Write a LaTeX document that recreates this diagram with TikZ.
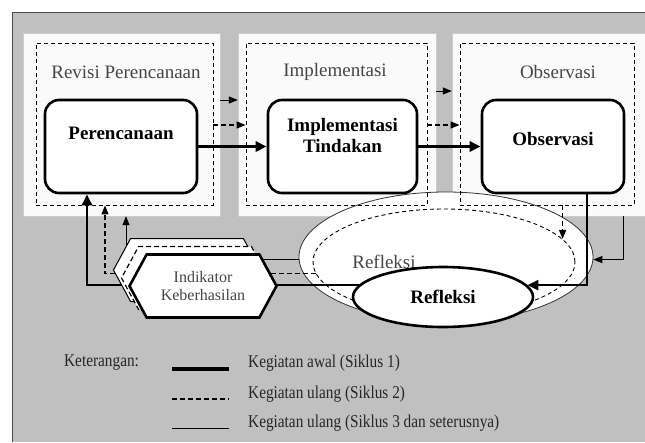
\documentclass[tikz,border=0pt]{standalone}
\usepackage{fontspec}
\setmainfont{Liberation Serif}
\newfontfamily\narrowserif[FakeStretch=0.85]{Liberation Serif}
\usepackage{tikz}
\usetikzlibrary{arrows.meta,shapes.geometric,shapes.symbols}

\definecolor{bggray}{RGB}{192,192,192}
\definecolor{panelwhite}{RGB}{250,250,250}
\definecolor{txtgray}{RGB}{70,70,70}

\tikzset{
  panel/.style={rectangle,draw=black!20,fill=panelwhite,minimum width=#1,minimum height=183pt,inner sep=0pt},
  dashbox/.style={rectangle,draw,line width=0.9pt,dash pattern=on 4pt off 3pt,minimum width=#1,minimum height=162pt,inner sep=0pt},
  stepbox/.style={rectangle,draw,rounded corners=14pt,line width=2.6pt,fill=white,minimum width=#1,minimum height=93pt,inner sep=0pt},
  heading/.style={text=txtgray,font=\fontsize{19}{22}\selectfont,inner sep=0pt},
  boxlbl/.style={align=center,font=\bfseries\fontsize{19}{21}\selectfont,inner sep=0pt},
  hexbox/.style={signal,signal to=west and east,signal pointer angle=123,minimum width=147pt,minimum height=63pt,inner sep=0pt,draw,fill=white},
  legtxt/.style={anchor=west,text=black!85,font=\narrowserif\fontsize{18}{21}\selectfont,inner sep=0pt},
  awal/.style={line width=2.6pt,-{Triangle[length=11pt,width=10pt]}},
  ulang/.style={line width=1.2pt,dash pattern=on 5pt off 3pt,-{Triangle[length=9pt,width=7pt]}},
  lanjut/.style={line width=1pt,-{Triangle[length=9pt,width=7pt]}}
}

\begin{document}
\begin{tikzpicture}[x=1pt,y=-1pt]
\useasboundingbox (0,0) rectangle (645,442);
% background frame
\fill[bggray] (12,12) rectangle (645,442);
\draw[line width=1pt,black!70] (12,442) -- (12,12) -- (645,12);

% panels
\node[panel=197pt] (pplan) at (121.5,124.5) {};
\node[panel=198pt] (pimp) at (337,124.5) {};
\node[panel=193pt] (pobs) at (548.5,124.5) {};

% reflection ellipses
\node[ellipse,draw=black!80,line width=0.8pt,fill=white,minimum width=294pt,minimum height=130pt] (bigref) at (446,257) {};
\node[ellipse,draw,line width=0.9pt,dash pattern=on 4pt off 3pt,minimum width=262pt,minimum height=106pt] (dref) at (444,262) {};
\node[text=txtgray,font=\fontsize{19}{22}\selectfont,inner sep=0pt] (reftxt) at (384,262) {Refleksi};

\node[dashbox=177pt] (dplan) at (124.5,124) {};
\node[dashbox=181pt] (dimp) at (336.5,124) {};
\node[dashbox=174pt] (dobs) at (547,124) {};

\node[heading] (hplan) at (126,72) {Revisi Perencanaan};
\node[heading] (himp) at (335,72) {Implementasi};
\node[heading] (hobs) at (558,72) {Observasi};

% main boxes
\node[stepbox=152pt] (plan) at (121,146.5) {};
\node[stepbox=149pt] (imp) at (342.5,146.5) {};
\node[stepbox=142pt] (obs) at (553,146.5) {};
\node[boxlbl] (plantxt) at (121,133) {Perencanaan};
\node[boxlbl] (imptxt) at (342.5,135) {Implementasi\\Tindakan};
\node[boxlbl] (obstxt) at (553,139) {Observasi};

\node[ellipse,draw,line width=2.6pt,fill=white,minimum width=180pt,minimum height=60pt,inner sep=0pt,font=\bfseries\fontsize{19}{22}\selectfont] (refl) at (443,297) {Refleksi};

% arrows between panels
\draw[lanjut] (pplan.east |- 0,100) -- (pimp.west |- 0,100);
\draw[lanjut] (pimp.east |- 0,91) -- (pobs.west |- 0,91);
\draw[ulang] (dplan.east |- 0,125) -- (dimp.west |- 0,125);
\draw[ulang] (dimp.east |- 0,125) -- (dobs.west |- 0,125);
\draw[awal] (plan.east) -- (imp.west);
\draw[awal] (imp.east) -- (obs.west);

% back to reflection
\draw[lanjut] (pobs.south -| 623,0) |- (bigref.-1);
\draw[awal] (obs.south -| 587,0) |- (refl.8);
\draw[ulang] (dref.11.6 |- dobs.south) -- (dref.11.6);

% indicator stack
\coordinate (hxc) at (187,270);
\coordinate (hxb) at (195,278);
\coordinate (hx) at (203,286);
\draw[lanjut] (bigref.181) -- (bigref.181 -| hxc) -| (pplan.south -| 126,0);
\draw[ulang] (dref.185.8) -- (dref.185.8 -| hxb) -| (dplan.south -| 105,0);
\draw[awal] (refl.172.5) -- (refl.172.5 -| hx) -| (plan.south -| 87,0);
\node[hexbox,line width=1pt] (hexc) at (hxc) {};
\node[hexbox,line width=1.2pt,dash pattern=on 5pt off 3pt] (hexb) at (hxb) {};
\node[hexbox,line width=2.6pt,align=center,text=txtgray,font=\fontsize{16}{18}\selectfont] (hex) at (hx) {Indikator\\Keberhasilan};

% legend
\node[legtxt] (ket) at (64,363) {Keterangan:};
\node[legtxt] (leg1) at (248,363) {Kegiatan awal (Siklus 1)};
\node[legtxt] (leg2) at (248,394) {Kegiatan ulang (Siklus 2)};
\node[legtxt] (leg3) at (248,423) {Kegiatan ulang (Siklus 3 dan seterusnya)};
\draw[awal,-,line width=3.2pt] (172,369) -- (229,369);
\draw[ulang,-] (172,399) -- (229,399);
\draw[lanjut,-] (172,428) -- (229,428);
\end{tikzpicture}
\end{document}
